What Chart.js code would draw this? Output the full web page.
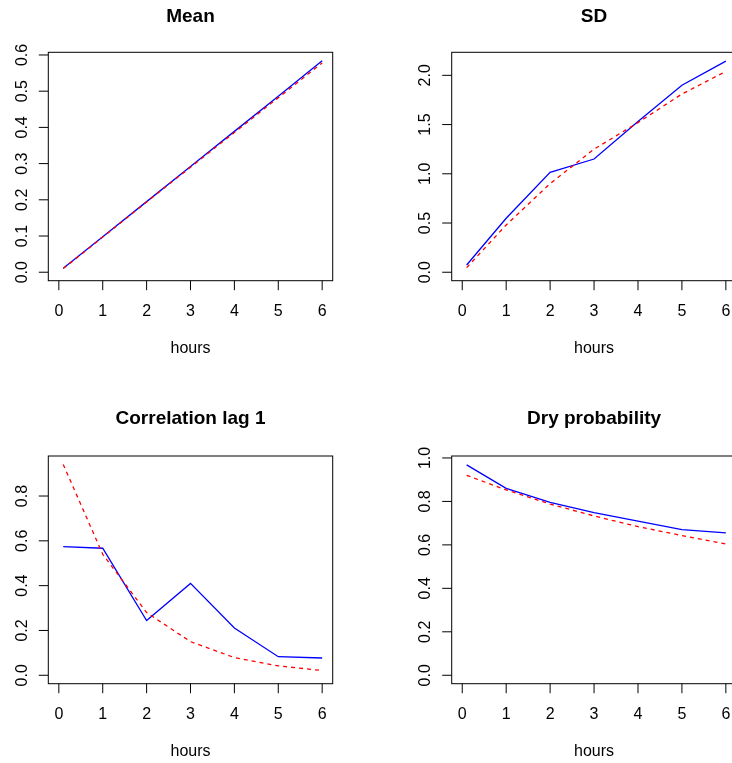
<!DOCTYPE html>
<html><head><meta charset="utf-8">
<script src="https://cdn.jsdelivr.net/npm/chart.js@4/dist/chart.umd.min.js"></script>
<style>
html,body{margin:0;padding:0;background:#fff;overflow:hidden;width:732px;height:763px;position:relative;}
canvas{position:absolute;}
</style></head><body>
<canvas id="c0" width="366" height="380" style="left:0px;top:0px"></canvas>
<canvas id="c1" width="400" height="380" style="left:366px;top:0px"></canvas>
<canvas id="c2" width="366" height="383" style="left:0px;top:380px"></canvas>
<canvas id="c3" width="400" height="383" style="left:366px;top:380px"></canvas>
<script>
// ---- data ----
const hours = [0.1, 1, 2, 3, 4, 5, 6];
const xTicks = [0, 1, 2, 3, 4, 5, 6];
const xTickLabels = ["0", "1", "2", "3", "4", "5", "6"];
const xLabel = "hours";
const titles = ["Mean", "SD", "Correlation lag 1", "Dry probability"];

const meanObs = [0.011, 0.098, 0.195, 0.292, 0.389, 0.486, 0.584];
const meanSim = [0.010, 0.097, 0.194, 0.290, 0.386, 0.482, 0.578];
const sdObs   = [0.074, 0.548, 1.015, 1.150, 1.530, 1.900, 2.145];
const sdSim   = [0.047, 0.480, 0.900, 1.250, 1.520, 1.810, 2.040];
const corrObs = [0.574, 0.567, 0.244, 0.410, 0.211, 0.083, 0.077];
const corrSim = [0.941, 0.540, 0.280, 0.150, 0.079, 0.042, 0.021];
const dryObs  = [0.968, 0.860, 0.796, 0.748, 0.709, 0.670, 0.655];
const drySim  = [0.920, 0.853, 0.788, 0.733, 0.684, 0.643, 0.604];

const meanTicks = [0, 0.1, 0.2, 0.3, 0.4, 0.5, 0.6];
const meanTickLabels = ["0.0", "0.1", "0.2", "0.3", "0.4", "0.5", "0.6"];
const sdTicks = [0, 0.5, 1.0, 1.5, 2.0];
const sdTickLabels = ["0.0", "0.5", "1.0", "1.5", "2.0"];
const corrTicks = [0, 0.2, 0.4, 0.6, 0.8];
const corrTickLabels = ["0.0", "0.2", "0.4", "0.6", "0.8"];
const dryTicks = [0, 0.2, 0.4, 0.6, 0.8, 1.0];
const dryTickLabels = ["0.0", "0.2", "0.4", "0.6", "0.8", "1.0"];

// ---- layout / style ----
const FONT = '"Liberation Sans", Arial, Helvetica, sans-serif';
const TICKLEN = 9.5;

function rAxesPlugin(p) {
  return {
    id: 'rAxes',
    afterDraw(chart) {
      const ctx = chart.ctx, a = chart.chartArea;
      const xs = chart.scales.x, ys = chart.scales.y;
      ctx.save();
      ctx.strokeStyle = '#000';
      ctx.fillStyle = '#000';
      ctx.lineWidth = 1;
      ctx.setLineDash([]);
      ctx.strokeRect(a.left, a.top, a.right - a.left, a.bottom - a.top);
      ctx.beginPath();
      xTicks.forEach(v => {
        const px = xs.getPixelForValue(v);
        ctx.moveTo(px, a.bottom); ctx.lineTo(px, a.bottom + TICKLEN);
      });
      p.yTicks.forEach(v => {
        const py = ys.getPixelForValue(v);
        ctx.moveTo(a.left, py); ctx.lineTo(a.left - TICKLEN, py);
      });
      ctx.stroke();
      ctx.font = '16px ' + FONT;
      ctx.textAlign = 'center';
      ctx.textBaseline = 'alphabetic';
      xTicks.forEach((v, i) => {
        ctx.fillText(xTickLabels[i], xs.getPixelForValue(v), a.bottom + 35.5);
      });
      p.yTicks.forEach((v, i) => {
        const py = ys.getPixelForValue(v);
        ctx.save();
        ctx.translate(a.left - 21.8, py);
        ctx.rotate(-Math.PI / 2);
        ctx.fillText(p.yLabels[i], 0, 0);
        ctx.restore();
      });
      ctx.fillText(xLabel, (a.left + a.right) / 2, a.bottom + 72.5);
      ctx.font = 'bold 19px ' + FONT;
      ctx.fillText(p.title, (a.left + a.right) / 2, p.titleY);
      ctx.restore();
    }
  };
}

function makePanel(id, p) {
  new Chart(document.getElementById(id), {
    type: 'line',
    data: {
      labels: hours,
      datasets: [
        { data: hours.map((h, i) => ({x: h, y: p.sim[i]})), borderColor: '#ff0000',
          borderWidth: 1.3, borderDash: [4, 4], pointRadius: 0, tension: 0, fill: false },
        { data: hours.map((h, i) => ({x: h, y: p.obs[i]})), borderColor: '#0000ff',
          borderWidth: 1.3, pointRadius: 0, tension: 0, fill: false }
      ]
    },
    options: {
      responsive: false, animation: false, devicePixelRatio: 1,
      layout: { padding: p.pad },
      plugins: { legend: { display: false }, title: { display: false }, tooltip: { enabled: false } },
      scales: {
        x: { type: 'linear', display: false, min: -0.24, max: 6.24 },
        y: { type: 'linear', display: false, min: p.ymin, max: p.ymax }
      }
    },
    plugins: [rAxesPlugin(p)]
  });
}

const padL = {left: 48.3, right: 33.3};
const padR = {left: 85.7, right: 29.6};
const padT = {top: 52.3, bottom: 99.3};
const padB = {top: 76, bottom: 79.3};

makePanel('c0', { title: titles[0], obs: meanObs, sim: meanSim, yTicks: meanTicks, yLabels: meanTickLabels,
  ymin: -0.0234, ymax: 0.6074, titleY: 21.7, pad: Object.assign({}, padL, padT) });
makePanel('c1', { title: titles[1], obs: sdObs, sim: sdSim, yTicks: sdTicks, yLabels: sdTickLabels,
  ymin: -0.0859, ymax: 2.234, titleY: 21.7, pad: Object.assign({}, padR, padT) });
makePanel('c2', { title: titles[2], obs: corrObs, sim: corrSim, yTicks: corrTicks, yLabels: corrTickLabels,
  ymin: -0.0376, ymax: 0.9786, titleY: 44, pad: Object.assign({}, padL, padB) });
makePanel('c3', { title: titles[3], obs: dryObs, sim: drySim, yTicks: dryTicks, yLabels: dryTickLabels,
  ymin: -0.0388, ymax: 1.009, titleY: 44, pad: Object.assign({}, padR, padB) });
</script>
</body></html>
